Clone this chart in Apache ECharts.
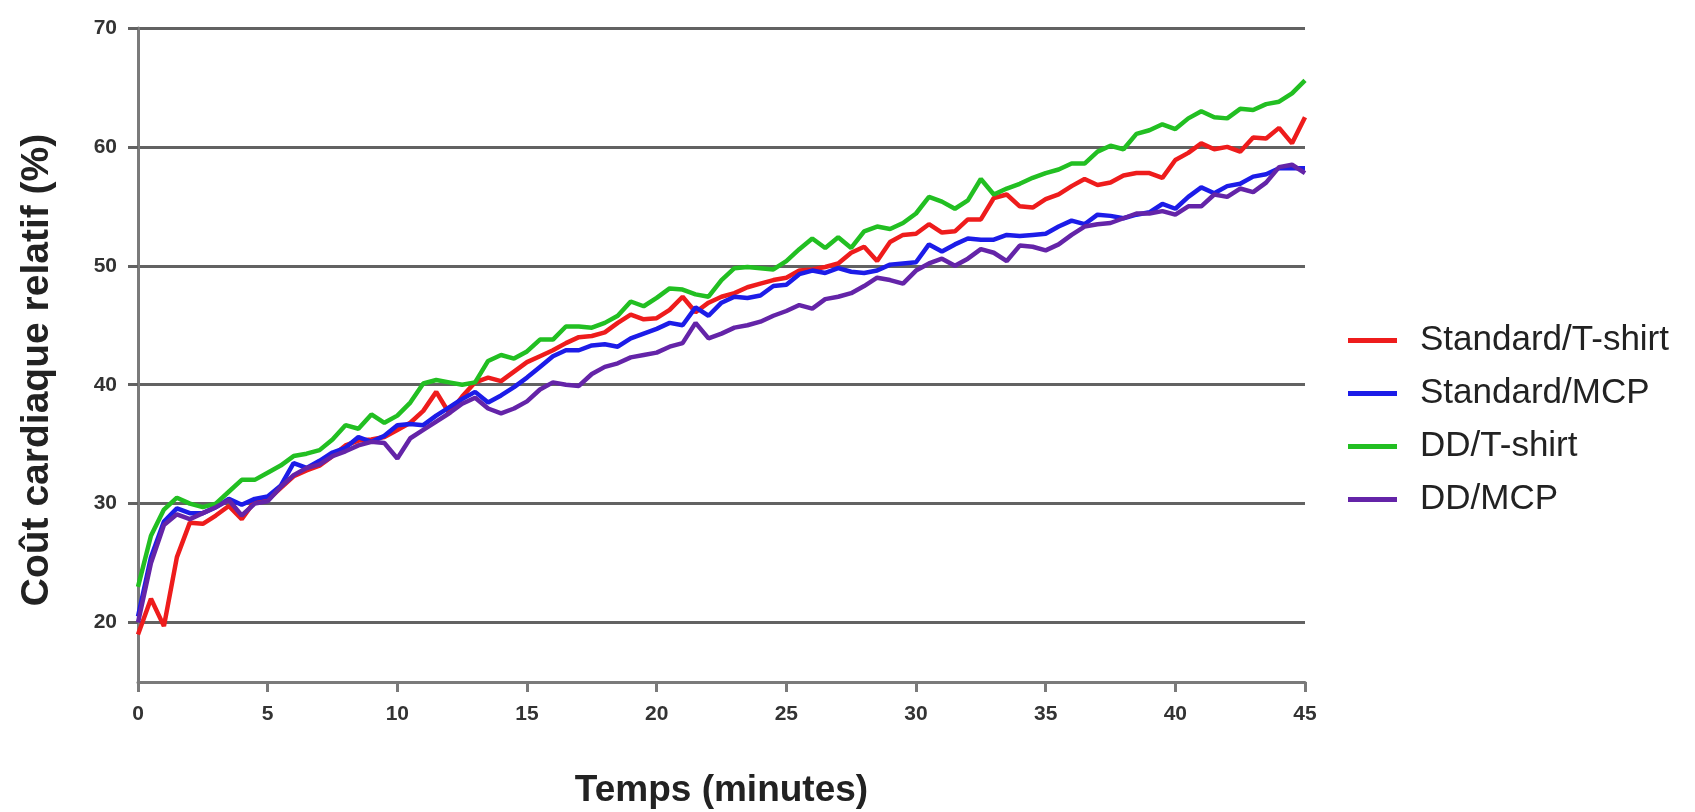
<!DOCTYPE html>
<html>
<head>
<meta charset="utf-8">
<script src="https://cdn.jsdelivr.net/npm/echarts@6/dist/echarts.min.js"></script>
<style>
html,body{margin:0;padding:0;background:#fff;}
#chart{width:1695px;height:812px;}
</style>
</head>
<body>
<div id="chart"></div>
<script>
// Time (minutes)
var times = [0,0.5,1,1.5,2,2.5,3,3.5,4,4.5,5,5.5,6,6.5,7,7.5,8,8.5,9,9.5,
  10,10.5,11,11.5,12,12.5,13,13.5,14,14.5,15,15.5,16,16.5,17,17.5,18,18.5,19,19.5,
  20,20.5,21,21.5,22,22.5,23,23.5,24,24.5,25,25.5,26,26.5,27,27.5,28,28.5,29,29.5,
  30,30.5,31,31.5,32,32.5,33,33.5,34,34.5,35,35.5,36,36.5,37,37.5,38,38.5,39,39.5,
  40,40.5,41,41.5,42,42.5,43,43.5,44,44.5,45];

var standardTshirt = [19.0,22.0,19.7,25.5,28.4,28.3,29.0,29.8,28.7,30.2,
  30.3,31.3,32.3,32.8,33.2,34.0,34.9,35.3,35.4,35.6,
  36.2,36.8,37.8,39.4,37.6,39.0,40.2,40.6,40.3,41.1,
  41.9,42.4,42.9,43.5,44.0,44.1,44.4,45.2,45.9,45.5,
  45.6,46.3,47.4,46.1,46.9,47.4,47.7,48.2,48.5,48.8,
  49.0,49.6,49.7,49.9,50.2,51.1,51.6,50.4,52.0,52.6,
  52.7,53.5,52.8,52.9,53.9,53.9,55.7,56.0,55.0,54.9,
  55.6,56.0,56.7,57.3,56.8,57.0,57.6,57.8,57.8,57.4,
  58.9,59.5,60.3,59.8,60.0,59.6,60.8,60.7,61.6,60.3,62.5];

var standardMCP = [20.5,25.5,28.5,29.6,29.2,29.2,29.7,30.4,29.9,30.4,
  30.6,31.5,33.4,33.0,33.6,34.3,34.7,35.6,35.2,35.7,
  36.6,36.7,36.6,37.4,38.1,38.8,39.4,38.5,39.1,39.8,
  40.6,41.5,42.4,42.9,42.9,43.3,43.4,43.2,43.9,44.3,
  44.7,45.2,45.0,46.5,45.8,46.9,47.4,47.3,47.5,48.3,
  48.4,49.3,49.6,49.4,49.8,49.5,49.4,49.6,50.1,50.2,
  50.3,51.8,51.2,51.8,52.3,52.2,52.2,52.6,52.5,52.6,
  52.7,53.3,53.8,53.5,54.3,54.2,54.0,54.3,54.5,55.2,
  54.8,55.8,56.6,56.1,56.7,56.9,57.5,57.7,58.2,58.2,58.2];

var ddTshirt = [23.0,27.3,29.5,30.5,30.0,29.7,30.0,31.0,32.0,32.0,
  32.6,33.2,34.0,34.2,34.5,35.4,36.6,36.3,37.5,36.8,
  37.4,38.5,40.1,40.4,40.2,40.0,40.2,42.0,42.5,42.2,
  42.8,43.8,43.8,44.9,44.9,44.8,45.2,45.8,47.0,46.6,
  47.3,48.1,48.0,47.6,47.4,48.8,49.8,49.9,49.8,49.7,
  50.4,51.4,52.3,51.5,52.4,51.5,52.9,53.3,53.1,53.6,
  54.4,55.8,55.4,54.8,55.5,57.3,56.0,56.5,56.9,57.4,
  57.8,58.1,58.6,58.6,59.6,60.1,59.8,61.1,61.4,61.9,
  61.5,62.4,63.0,62.5,62.4,63.2,63.1,63.6,63.8,64.5,65.6];

var ddMCP = [20.0,25.0,28.2,29.1,28.7,29.2,29.7,30.3,29.0,30.0,
  30.2,31.4,32.4,33.0,33.3,34.0,34.4,34.9,35.2,35.1,
  33.8,35.5,36.2,36.9,37.6,38.4,38.9,38.0,37.6,38.0,
  38.6,39.6,40.2,40.0,39.9,40.9,41.5,41.8,42.3,42.5,
  42.7,43.2,43.5,45.2,43.9,44.3,44.8,45.0,45.3,45.8,
  46.2,46.7,46.4,47.2,47.4,47.7,48.3,49.0,48.8,48.5,
  49.6,50.2,50.6,50.0,50.6,51.4,51.1,50.4,51.7,51.6,
  51.3,51.8,52.6,53.3,53.5,53.6,54.0,54.4,54.4,54.6,
  54.3,55.0,55.0,56.0,55.8,56.5,56.2,57.0,58.3,58.5,57.8];

var seriesNames = ['Standard/T-shirt','Standard/MCP','DD/T-shirt','DD/MCP'];
var seriesColors = ['#ee1c1c','#1c1ce8','#22bf22','#6424a8'];
var seriesValues = [standardTshirt, standardMCP, ddTshirt, ddMCP];
var yTicks = [20,30,40,50,60,70];
var yTitle = 'Coût cardiaque relatif (%)';
var xTitle = 'Temps (minutes)';

function pairs(vals){ return vals.map(function(v,i){ return [times[i], v]; }); }

var chart = echarts.init(document.getElementById('chart'), null, {renderer:'canvas'});
var font = "'Liberation Sans', Arial, Helvetica, sans-serif";

chart.setOption({
  animation:false,
  backgroundColor:'#ffffff',
  grid:{left:138, right:390, top:28, bottom:130, containLabel:false, outerBoundsMode:'none'},
  legend:{
    orient:'vertical', left:1343, top:318,
    itemWidth:49, itemHeight:5, itemGap:18, icon:'rect',
    textStyle:{fontFamily:font, fontSize:35, color:'#222', lineHeight:34, padding:[0,0,0,18]},
    data:seriesNames
  },
  graphic:[{
    type:'text', x:37, y:370, rotation:Math.PI/2,
    style:{text:yTitle, font:"bold 39px 'Liberation Sans', Arial, sans-serif", fill:'#222',
      textAlign:'center', textVerticalAlign:'middle'}
  }],
  xAxis:{
    type:'value', min:0, max:45, interval:5,
    name:xTitle, nameLocation:'middle', nameGap:90,
    nameTextStyle:{fontFamily:font, fontSize:37, fontWeight:'bold', color:'#222'},
    axisLine:{show:true, onZero:false, lineStyle:{color:'#7a7a7a', width:3}},
    axisTick:{show:true, length:10, lineStyle:{color:'#7a7a7a', width:3}},
    axisLabel:{fontFamily:font, fontSize:21, fontWeight:'bold', color:'#333', margin:22},
    splitLine:{show:false}
  },
  yAxis:{
    type:'value', min:15, max:70,
    axisLine:{show:true, onZero:false, lineStyle:{color:'#7a7a7a', width:3}},
    axisTick:{show:true, length:10, customValues:yTicks, lineStyle:{color:'#626262', width:3}},
    axisLabel:{fontFamily:font, fontSize:21, fontWeight:'bold', color:'#333', margin:21, customValues:yTicks},
    splitLine:{show:true, lineStyle:{color:'#626262', width:3}}
  },
  series: seriesNames.map(function(n,k){
    return {
      name:n, type:'line', data:pairs(seriesValues[k]),
      symbol:'none', showSymbol:false, smooth:false,
      lineStyle:{color:seriesColors[k], width:4.5},
      itemStyle:{color:seriesColors[k]},
      z: 2 + k
    };
  })
});
</script>
</body>
</html>
